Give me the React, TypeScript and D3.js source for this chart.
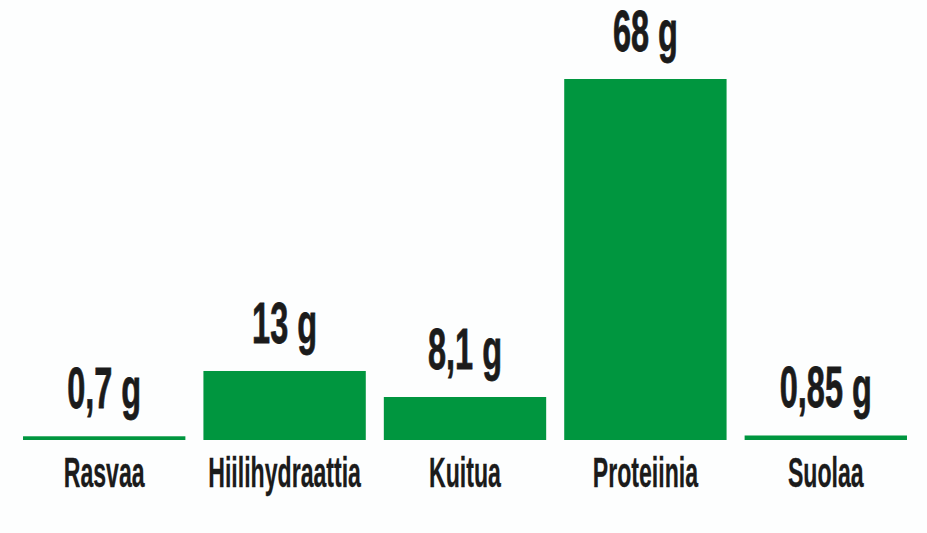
import React, { useEffect, useRef } from "react";
import * as d3 from "d3";

const categories = ["Rasvaa", "Hiilihydraattia", "Kuitua", "Proteiinia", "Suolaa"];
const values = [0.7, 13, 8.1, 68, 0.85];
const valueLabels = ["0,7 g", "13 g", "8,1 g", "68 g", "0,85 g"];

const W = 927;
const H = 533;
const GREEN = "#00963f";
const INK = "#1b1b1b";

export default function App() {
  const svgRef = useRef<SVGSVGElement | null>(null);

  useEffect(() => {
    if (!svgRef.current) return;
    const svg = d3.select(svgRef.current);
    svg.selectAll("*").remove();

    const baseline = 440;

    const x = d3
      .scaleBand<string>()
      .domain(categories)
      .range([14, 916])
      .paddingInner(0.1)
      .paddingOuter(0.05);

    // 68 g -> bar top at ~79px
    const y = d3.scaleLinear().domain([0, 68]).range([baseline, 79]);

    const data = categories.map((c, i) => ({ c, v: values[i], label: valueLabels[i] }));

    svg
      .append("rect")
      .attr("width", W)
      .attr("height", H)
      .attr("fill", "#fdfefe");

    // bars (tiny values still show as a thin line)
    svg
      .selectAll(".bar")
      .data(data)
      .enter()
      .append("rect")
      .attr("x", (d) => x(d.c)!)
      .attr("width", x.bandwidth())
      .attr("y", (d) => Math.min(y(d.v), baseline - 3))
      .attr("height", (d) => Math.max(baseline - y(d.v), 3))
      .attr("fill", GREEN);

    const font = "'Liberation Sans', Arial, sans-serif";

    // value labels above bars
    svg
      .selectAll(".val")
      .data(data)
      .enter()
      .append("text")
      .attr(
        "transform",
        (d) =>
          `translate(${x(d.c)! + x.bandwidth() / 2}, ${Math.min(y(d.v), baseline - 3) - 28}) scale(0.57,1)`
      )
      .attr("text-anchor", "middle")
      .attr("fill", INK)
      .attr("stroke", INK)
      .attr("stroke-width", 0.8)
      .style("font-family", font)
      .style("font-weight", "bold")
      .style("font-size", "57px")
      .text((d) => d.label);

    // category labels
    svg
      .selectAll(".cat")
      .data(data)
      .enter()
      .append("text")
      .attr(
        "transform",
        (d) => `translate(${x(d.c)! + x.bandwidth() / 2}, 487) scale(0.55,1)`
      )
      .attr("text-anchor", "middle")
      .attr("fill", INK)
      .attr("stroke", INK)
      .attr("stroke-width", 0.3)
      .style("font-family", font)
      .style("font-weight", "bold")
      .style("font-size", "42px")
      .text((d) => d.c);
  }, []);

  return (
    <svg
      ref={svgRef}
      width={W}
      height={H}
      style={{ position: "absolute", left: 0, top: 0, display: "block" }}
    />
  );
}
